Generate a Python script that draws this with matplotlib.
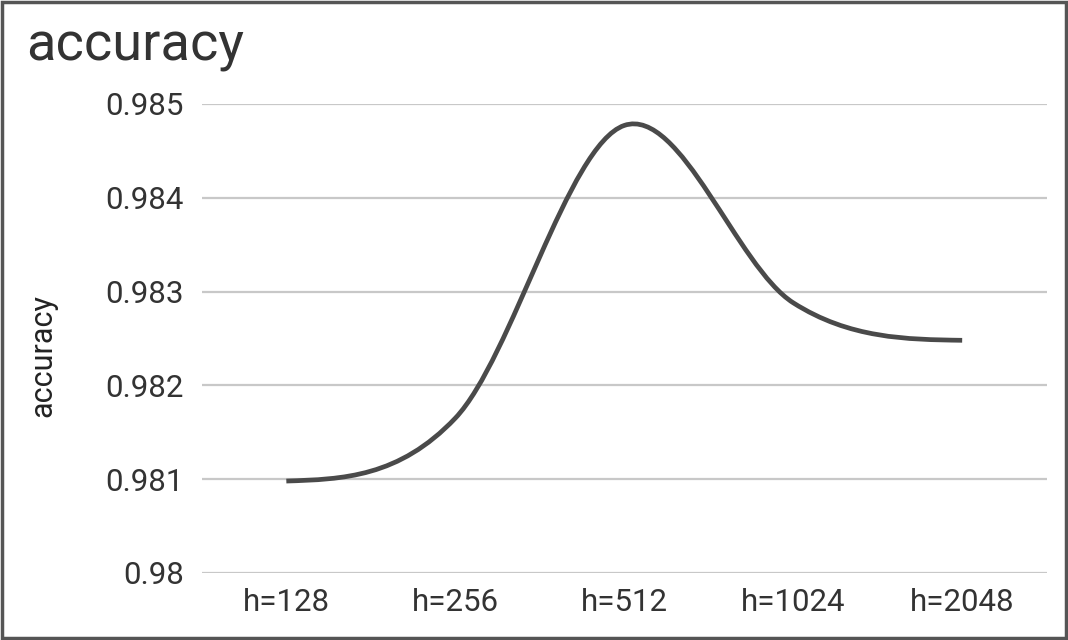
import numpy as np
import matplotlib
matplotlib.use("Agg")
import matplotlib.pyplot as plt
from matplotlib.path import Path
from matplotlib.patches import PathPatch, Rectangle

labels = ["h=128", "h=256", "h=512", "h=1024", "h=2048"]
accuracy = [0.98098, 0.98165, 0.98477, 0.98288, 0.98248]
yticks = [0.98, 0.981, 0.982, 0.983, 0.984, 0.985]
ytick_labels = ["0.98", "0.981", "0.982", "0.983", "0.984", "0.985"]

plt.rcParams["font.family"] = ["Roboto", "DejaVu Sans"]

fig = plt.figure(figsize=(10.68, 6.4), dpi=100)
ax = fig.add_axes([0.189, 0.1047, 0.791, 0.733])

# smooth line through the points (cubic bezier, catmull-rom tangents,
# natural-style ends)
x = np.arange(len(accuracy), dtype=float)
y = np.array(accuracy)
n = len(x)
tan = np.zeros(n)
for i in range(1, n - 1):
    tan[i] = (y[i + 1] - y[i - 1]) / 2
tan[0] = (3 * (y[1] - y[0]) - tan[1]) / 2
tan[-1] = (3 * (y[-1] - y[-2]) - tan[-2]) / 2
verts = [(x[0], y[0])]
codes = [Path.MOVETO]
for i in range(n - 1):
    verts += [(x[i] + 1 / 3, y[i] + tan[i] / 3),
              (x[i + 1] - 1 / 3, y[i + 1] - tan[i + 1] / 3),
              (x[i + 1], y[i + 1])]
    codes += [Path.CURVE4] * 3
ax.add_patch(PathPatch(Path(verts, codes), facecolor="none",
                       edgecolor="#4a4a4a", lw=3.4, capstyle="butt", zorder=3))

ax.set_xlim(-0.5, n - 0.5)
ax.set_ylim(0.98, 0.985)
ax.set_xticks(x)
ax.set_xticklabels(labels)
ax.set_yticks(yticks)
ax.set_yticklabels(ytick_labels)
ax.grid(axis="y", color="#c8c8c8", lw=1.6)
ax.set_axisbelow(True)
for s in ax.spines.values():
    s.set_visible(False)
ax.tick_params(axis="both", length=0, labelsize=22.5, colors="#333333")
ax.tick_params(axis="y", pad=13)
ax.tick_params(axis="x", pad=11)

fig.text(0.024, 1 - 61 / 640, "accuracy", fontsize=39, color="#333333", va="baseline")
fig.text(43 / 1068, 1 - 356 / 640, "accuracy", fontsize=22, color="#222222",
         rotation=90, va="center", ha="center")

fig.patches.append(Rectangle((0.002, 0.003), 0.996, 0.994, transform=fig.transFigure,
                             fill=False, edgecolor="#555555", lw=2.5))

fig.savefig("out.png", dpi=100)
